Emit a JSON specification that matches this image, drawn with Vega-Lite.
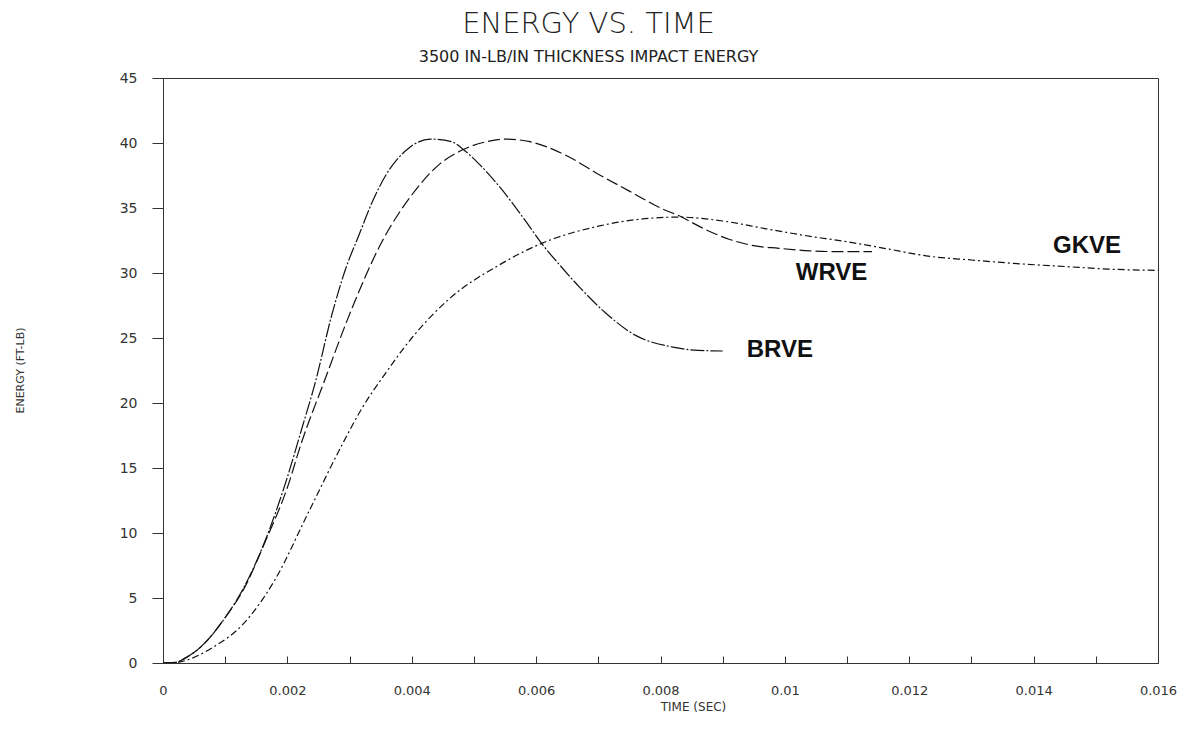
{
  "$schema": "https://vega.github.io/schema/vega-lite/v6.json",
  "autosize": "none",
  "width": 995,
  "height": 585,
  "padding": {"left": 163, "top": 78, "right": 39, "bottom": 84},
  "background": "white",
  "title": {
    "text": "ENERGY VS. TIME",
    "subtitle": "3500 IN-LB/IN THICKNESS IMPACT ENERGY",
    "anchor": "middle",
    "frame": "group",
    "dx": -72,
    "offset": 6,
    "font": "DejaVu Sans",
    "fontSize": 29,
    "fontWeight": 200,
    "color": "#222",
    "subtitleFont": "DejaVu Sans",
    "subtitleFontSize": 16,
    "subtitleColor": "#222",
    "subtitlePadding": 10
  },
  "config": {
    "view": {"stroke": "#333", "strokeWidth": 1},
    "axis": {
      "grid": false,
      "domainColor": "#333",
      "tickColor": "#333",
      "labelColor": "#333",
      "titleColor": "#333",
      "labelFont": "DejaVu Sans",
      "titleFont": "DejaVu Sans",
      "titleFontWeight": "normal"
    }
  },
  "datasets": {
    "curves": [
      {"series": "BRVE", "t": 0, "e": 0},
      {"series": "BRVE", "t": 0.0002, "e": 0.05},
      {"series": "BRVE", "t": 0.0004, "e": 0.5},
      {"series": "BRVE", "t": 0.0006, "e": 1.2},
      {"series": "BRVE", "t": 0.001, "e": 3.5},
      {"series": "BRVE", "t": 0.0013, "e": 5.8},
      {"series": "BRVE", "t": 0.00165, "e": 9.5},
      {"series": "BRVE", "t": 0.002, "e": 14.3},
      {"series": "BRVE", "t": 0.00223, "e": 18},
      {"series": "BRVE", "t": 0.00245, "e": 21.6},
      {"series": "BRVE", "t": 0.00271, "e": 26.7},
      {"series": "BRVE", "t": 0.00295, "e": 30.5},
      {"series": "BRVE", "t": 0.00315, "e": 32.9},
      {"series": "BRVE", "t": 0.00335, "e": 35.3},
      {"series": "BRVE", "t": 0.00358, "e": 37.5},
      {"series": "BRVE", "t": 0.00395, "e": 39.6},
      {"series": "BRVE", "t": 0.0043, "e": 40.3},
      {"series": "BRVE", "t": 0.00464, "e": 40.1},
      {"series": "BRVE", "t": 0.00483, "e": 39.5},
      {"series": "BRVE", "t": 0.0051, "e": 38.3},
      {"series": "BRVE", "t": 0.0054, "e": 36.7},
      {"series": "BRVE", "t": 0.0058, "e": 34.2},
      {"series": "BRVE", "t": 0.0061, "e": 32.2},
      {"series": "BRVE", "t": 0.0064, "e": 30.5},
      {"series": "BRVE", "t": 0.0067, "e": 28.9},
      {"series": "BRVE", "t": 0.0071, "e": 27.0},
      {"series": "BRVE", "t": 0.0076, "e": 25.2},
      {"series": "BRVE", "t": 0.0082, "e": 24.3},
      {"series": "BRVE", "t": 0.0086, "e": 24.05},
      {"series": "BRVE", "t": 0.009, "e": 24.0},
      {"series": "WRVE", "t": 0, "e": 0},
      {"series": "WRVE", "t": 0.0002, "e": 0.05},
      {"series": "WRVE", "t": 0.0004, "e": 0.5},
      {"series": "WRVE", "t": 0.0006, "e": 1.2},
      {"series": "WRVE", "t": 0.001, "e": 3.5},
      {"series": "WRVE", "t": 0.0013, "e": 5.7},
      {"series": "WRVE", "t": 0.00165, "e": 9.4},
      {"series": "WRVE", "t": 0.002, "e": 13.5},
      {"series": "WRVE", "t": 0.00223, "e": 17},
      {"series": "WRVE", "t": 0.00258, "e": 21.5},
      {"series": "WRVE", "t": 0.00299, "e": 26.7},
      {"series": "WRVE", "t": 0.00352, "e": 32.4},
      {"series": "WRVE", "t": 0.004, "e": 36},
      {"series": "WRVE", "t": 0.00443, "e": 38.3},
      {"series": "WRVE", "t": 0.00483, "e": 39.5},
      {"series": "WRVE", "t": 0.0052, "e": 40.1},
      {"series": "WRVE", "t": 0.0055, "e": 40.3},
      {"series": "WRVE", "t": 0.0059, "e": 40.1},
      {"series": "WRVE", "t": 0.0065, "e": 39.0},
      {"series": "WRVE", "t": 0.007, "e": 37.6},
      {"series": "WRVE", "t": 0.0075, "e": 36.3},
      {"series": "WRVE", "t": 0.008, "e": 35.0},
      {"series": "WRVE", "t": 0.0083, "e": 34.4},
      {"series": "WRVE", "t": 0.0087, "e": 33.4},
      {"series": "WRVE", "t": 0.0091, "e": 32.6},
      {"series": "WRVE", "t": 0.0095, "e": 32.1},
      {"series": "WRVE", "t": 0.0099, "e": 31.9},
      {"series": "WRVE", "t": 0.0104, "e": 31.7},
      {"series": "WRVE", "t": 0.0108, "e": 31.65},
      {"series": "WRVE", "t": 0.0114, "e": 31.65},
      {"series": "GKVE", "t": 0, "e": 0},
      {"series": "GKVE", "t": 0.0002, "e": 0.03},
      {"series": "GKVE", "t": 0.0004, "e": 0.25},
      {"series": "GKVE", "t": 0.0008, "e": 1.2},
      {"series": "GKVE", "t": 0.00127, "e": 2.9},
      {"series": "GKVE", "t": 0.0018, "e": 6.4},
      {"series": "GKVE", "t": 0.00234, "e": 11.6},
      {"series": "GKVE", "t": 0.00287, "e": 16.7},
      {"series": "GKVE", "t": 0.0032, "e": 19.6},
      {"series": "GKVE", "t": 0.00358, "e": 22.3},
      {"series": "GKVE", "t": 0.004, "e": 25.0},
      {"series": "GKVE", "t": 0.0046, "e": 28.0},
      {"series": "GKVE", "t": 0.0054, "e": 30.6},
      {"series": "GKVE", "t": 0.0061, "e": 32.3},
      {"series": "GKVE", "t": 0.007, "e": 33.6},
      {"series": "GKVE", "t": 0.0076, "e": 34.1},
      {"series": "GKVE", "t": 0.0083, "e": 34.3},
      {"series": "GKVE", "t": 0.009, "e": 34.0},
      {"series": "GKVE", "t": 0.0097, "e": 33.4},
      {"series": "GKVE", "t": 0.0103, "e": 32.9},
      {"series": "GKVE", "t": 0.011, "e": 32.4},
      {"series": "GKVE", "t": 0.0116, "e": 31.9},
      {"series": "GKVE", "t": 0.0123, "e": 31.3},
      {"series": "GKVE", "t": 0.013, "e": 31.0},
      {"series": "GKVE", "t": 0.0138, "e": 30.7},
      {"series": "GKVE", "t": 0.0145, "e": 30.5},
      {"series": "GKVE", "t": 0.0152, "e": 30.3},
      {"series": "GKVE", "t": 0.016, "e": 30.2}
    ],
    "labels": [
      {"label": "GKVE", "t": 0.01486, "e": 32.1},
      {"label": "WRVE", "t": 0.01075, "e": 30.0},
      {"label": "BRVE", "t": 0.00992, "e": 24.1}
    ]
  },
  "layer": [
    {
      "data": {"name": "curves"},
      "mark": {"type": "line", "color": "#111", "strokeWidth": 1.2, "interpolate": "monotone", "clip": true},
      "encoding": {
        "x": {
          "field": "t", "type": "quantitative",
          "scale": {"domain": [0, 0.016], "nice": false},
          "axis": {
            "title": "TIME (SEC)",
            "values": [0, 0.001, 0.002, 0.003, 0.004, 0.005, 0.006, 0.007, 0.008, 0.009, 0.01, 0.011, 0.012, 0.013, 0.014, 0.015, 0.016],
            "labelExpr": "round(datum.value * 1000) % 2 == 1 ? '' : format(datum.value, '~g')",
            "tickSize": -7,
            "labelPadding": 28,
            "labelFontSize": 13,
            "labelFlush": false,
            "titleFontSize": 12,
            "titleX": 530,
            "titleY": 43,
            "titleBaseline": "middle"
          }
        },
        "y": {
          "field": "e", "type": "quantitative",
          "scale": {"domain": [0, 45], "nice": false},
          "axis": {
            "title": "ENERGY (FT-LB)",
            "values": [0, 5, 10, 15, 20, 25, 30, 35, 40, 45],
            "tickSize": 11,
            "labelPadding": 15,
            "labelFontSize": 14,
            "titleFontSize": 11,
            "titleX": -143,
            "titleY": 292,
            "titleBaseline": "middle",
            "titleAngle": -90
          }
        },
        "detail": {"field": "series"},
        "strokeDash": {
          "field": "series", "type": "nominal",
          "scale": {"domain": ["BRVE", "WRVE", "GKVE"], "range": [[14, 2, 2, 2], [12, 4], [7, 3, 2, 3]]},
          "legend": null
        }
      }
    },
    {
      "data": {"name": "labels"},
      "mark": {"type": "text", "font": "Liberation Sans", "fontWeight": "bold", "fontSize": 24, "color": "#111", "align": "center", "baseline": "middle"},
      "encoding": {
        "x": {"field": "t", "type": "quantitative"},
        "y": {"field": "e", "type": "quantitative"},
        "text": {"field": "label"}
      }
    }
  ]
}
